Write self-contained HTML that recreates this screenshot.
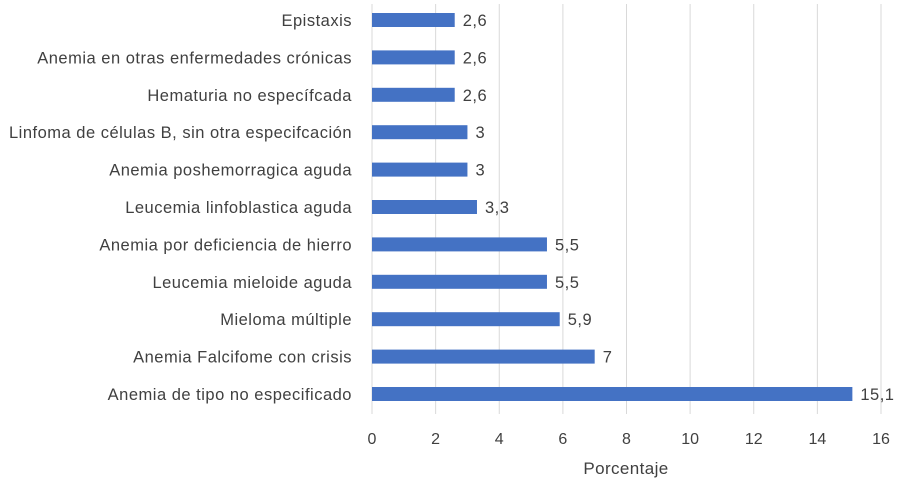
<!DOCTYPE html>
<html><head><meta charset="utf-8"><style>
body{margin:0;background:#fff;font-family:"Liberation Sans",sans-serif;}
svg text{font-family:"Liberation Sans",sans-serif;fill:#404040;}
</style></head><body>
<svg width="910" height="486">
<g id="grid"></g><g id="bars"></g><g id="labels"></g>
<text x="626" y="474" font-size="17" letter-spacing="0.4" text-anchor="middle">Porcentaje</text>
</svg>
<script>
const categories=["Epistaxis","Anemia en otras enfermedades crónicas","Hematuria no específcada","Linfoma de células B, sin otra especifcación","Anemia poshemorragica aguda","Leucemia linfoblastica aguda","Anemia por deficiencia de hierro","Leucemia mieloide aguda","Mieloma múltiple","Anemia Falcifome con crisis","Anemia de tipo no especificado"];
const values=[2.6,2.6,2.6,3,3,3.3,5.5,5.5,5.9,7,15.1];
const valueLabels=["2,6","2,6","2,6","3","3","3,3","5,5","5,5","5,9","7","15,1"];
const ticks=[0,2,4,6,8,10,12,14,16];
const NS="http://www.w3.org/2000/svg";
const x=v=>372+v*(881-372)/16;
const y=i=>20+i*(394-20)/(categories.length-1);
function mk(t,a,p){const e=document.createElementNS(NS,t);for(const k in a)e.setAttribute(k,a[k]);p.appendChild(e);return e;}
const g=document.getElementById('grid'),b=document.getElementById('bars'),l=document.getElementById('labels');
ticks.forEach(t=>{
const ln=mk('line',{x1:x(t),x2:x(t),y1:4,y2:414,stroke:'#d9d9d9','stroke-width':1},g);


const tx=mk('text',{x:x(t),y:444,'font-size':16,'text-anchor':'middle'},g);
tx.textContent=t;


});
categories.forEach((c,i)=>{
const r=mk('rect',{x:x(0),y:y(i)-7,width:x(values[i])-x(0),height:14,fill:'#4472c4'},b);


const ct=mk('text',{x:352,y:y(i)+6,'font-size':16.5,'letter-spacing':0.5,'text-anchor':'end'},l);
ct.textContent=c;


const vt=mk('text',{x:x(values[i])+8,y:y(i)+6,'font-size':16.5,'letter-spacing':0.5},l);
vt.textContent=valueLabels[i];


});
</script>
</body></html>
